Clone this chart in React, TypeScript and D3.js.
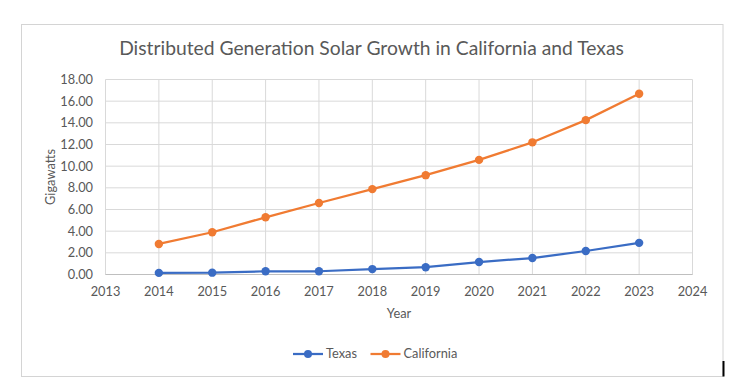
import React from "react";
import * as d3 from "d3";

const years = [2014, 2015, 2016, 2017, 2018, 2019, 2020, 2021, 2022, 2023];
const texas = [0.15, 0.17, 0.3, 0.3, 0.5, 0.67, 1.15, 1.52, 2.17, 2.92];
const california = [2.82, 3.9, 5.28, 6.6, 7.88, 9.17, 10.58, 12.2, 14.25, 16.68];
const xTicks = [2013, 2014, 2015, 2016, 2017, 2018, 2019, 2020, 2021, 2022, 2023, 2024];
const yTicks = [0, 2, 4, 6, 8, 10, 12, 14, 16, 18];

const series = [
    { name: "Texas", values: texas, color: "#3a6cc4" },
    { name: "California", values: california, color: "#f07b32" }
];

const W = 744;
const H = 387;
const font = "Lato, 'Open Sans', sans-serif";

const App = () => {
    const margin = { top: 79.5, right: W - 692.5, bottom: H - 274.5, left: 105.5 };
    const innerW = W - margin.left - margin.right;
    const innerH = H - margin.top - margin.bottom;

    const x = d3.scaleLinear().domain([2013, 2024]).range([0, innerW]);
    const y = d3.scaleLinear().domain([0, 18]).range([innerH, 0]);

    const line = d3.line<number>()
        .x((d, i) => x(years[i]))
        .y(d => y(d));

    return (
        <svg width={W} height={H} style={{ position: "absolute", left: 0, top: 0, background: "white" }}>
            <rect x={21.5} y={24.5} width={701.5} height={352} fill="white" stroke="#d4d4d4" strokeWidth={1} />
            <rect x={722.5} y={361} width={2} height={15.5} fill="black" />
            <text x={371.5} y={55} textAnchor="middle" fontFamily={font} fontSize={19.3} fill="#595959">
                Distributed Generation Solar Growth in California and Texas
            </text>
            <g transform={`translate(${margin.left},${margin.top})`}>
                {yTicks.map(t => (
                    <line key={"gy" + t} x1={0} x2={innerW} y1={y(t)} y2={y(t)} stroke="#d9d9d9" strokeWidth={1} />
                ))}
                {xTicks.map(t => (
                    <line key={"gx" + t} x1={x(t)} x2={x(t)} y1={0} y2={innerH} stroke="#d9d9d9" strokeWidth={1} />
                ))}
                <line x1={0} x2={innerW} y1={innerH} y2={innerH} stroke="#bfbfbf" strokeWidth={1} />
                {yTicks.map(t => (
                    <text key={"ty" + t} x={-12.5} y={y(t)} dy="0.35em" textAnchor="end" fontFamily={font} fontSize={12.8} fill="#595959">
                        {d3.format(".2f")(t)}
                    </text>
                ))}
                {xTicks.map(t => (
                    <text key={"tx" + t} x={x(t)} y={innerH + 21} textAnchor="middle" fontFamily={font} fontSize={12.8} fill="#595959">
                        {t}
                    </text>
                ))}
                <text x={innerW / 2} y={innerH + 43} textAnchor="middle" fontFamily={font} fontSize={12.8} fill="#595959">Year</text>
                <text transform={`translate(${-51},${innerH / 2}) rotate(-90)`} textAnchor="middle" fontFamily={font} fontSize={12.8} fill="#595959">Gigawatts</text>
                {series.map(s => (
                    <g key={s.name}>
                        <path d={line(s.values) || ""} fill="none" stroke={s.color} strokeWidth={2.25} strokeLinejoin="round" strokeLinecap="round" />
                        {s.values.map((v, i) => (
                            <circle key={i} cx={x(years[i])} cy={y(v)} r={4.2} fill={s.color} />
                        ))}
                    </g>
                ))}
            </g>
            <g transform="translate(293,354)">
                <line x1={0} x2={30} y1={0} y2={0} stroke={series[0].color} strokeWidth={2.25} />
                <circle cx={15} cy={0} r={4} fill={series[0].color} />
                <text x={33} y={0} dy="0.35em" fontFamily={font} fontSize={12.8} fill="#595959">Texas</text>
            </g>
            <g transform="translate(370.5,354)">
                <line x1={0} x2={30} y1={0} y2={0} stroke={series[1].color} strokeWidth={2.25} />
                <circle cx={15} cy={0} r={4} fill={series[1].color} />
                <text x={33} y={0} dy="0.35em" fontFamily={font} fontSize={12.8} fill="#595959">California</text>
            </g>
        </svg>
    );
};

export default App;
